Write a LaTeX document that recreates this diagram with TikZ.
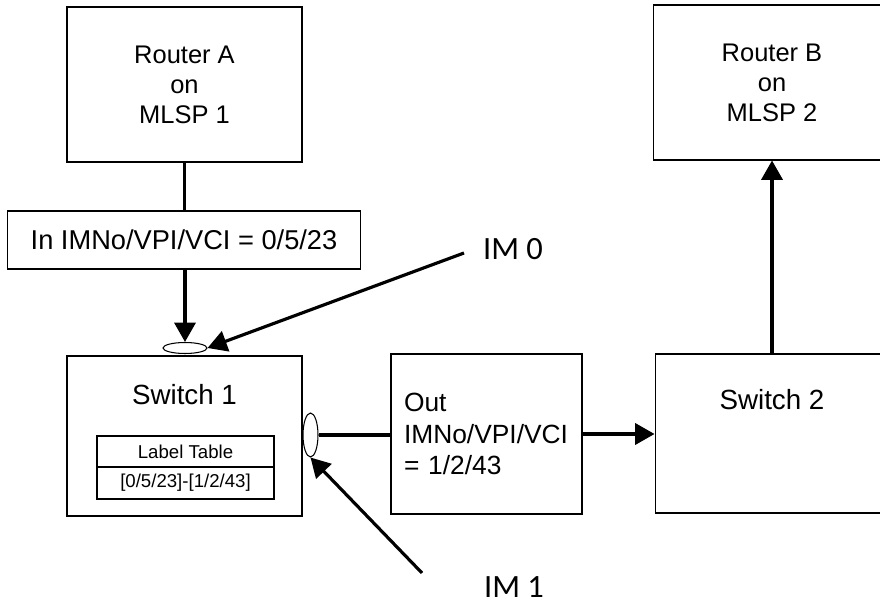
\documentclass[tikz,border=0pt]{standalone}
\usepackage{fontspec}
\setmainfont{Liberation Sans}
\newfontfamily\imfont{Carlito}
\usetikzlibrary{arrows.meta,shapes.geometric}

\tikzset{
  box/.style={draw, line width=0.6pt, align=center, font=\fontsize{14.5}{17}\selectfont},
  swtitle/.style={font=\fontsize{15.8}{18}\selectfont},
  tabcell/.style={draw, line width=0.6pt, minimum width=3.54cm, font=\fontsize{10.6}{12}\selectfont},
  port/.style={draw, ellipse, fill=white, line width=0.6pt, inner sep=0pt},
  conn/.style={line width=1.8pt},
  arr/.style={conn, -{Triangle[length=11pt,width=12pt]}},
  imlabel/.style={inner sep=1pt, font=\imfont\fontsize{18.5}{22}\selectfont}
}

\begin{document}
\begin{tikzpicture}[x=0.02cm, y=-0.02cm]
  \useasboundingbox (0,0) rectangle (880,604);
  \clip (0,0) rectangle (880,604);

  % Routers
  \node[box, minimum width=4.7cm, minimum height=3.1cm] (routerA) at (184.5,84.5) {Router A\\on\\MLSP 1};
  \node[box, minimum width=4.76cm, minimum height=3.1cm] (routerB) at (772,82.5) {Router B\\on\\MLSP 2};

  % Incoming label
  \node[box, minimum width=7.08cm, minimum height=1.16cm, font=\fontsize{15.5}{18}\selectfont] (inlabel) at (184,240) {In IMNo/VPI/VCI = 0/5/23};

  % Switch 1 with its label table
  \node[box, minimum width=4.7cm, minimum height=3.2cm] (switch1) at (184.5,436) {};
  \node[swtitle] (sw1title) at (184.5,395) {Switch 1};
  \node[tabcell, minimum height=0.62cm] (tabhead) at (185.5,451.5) {Label Table};
  \node[tabcell, minimum height=0.64cm] (tabrow) at (185.5,483) {[0/5/23]-[1/2/43]};

  % Outgoing label
  \node[box, minimum width=3.82cm, minimum height=3.2cm, text width=3.3cm, inner xsep=0.26cm, align=left, font=\fontsize{15}{18.1}\selectfont] (outlabel) at (486.5,434) {Out\\IMNo/VPI/VCI\\= 1/2/43};

  % Switch 2
  \node[box, minimum width=4.68cm, minimum height=3.18cm] (switch2) at (772,433.5) {};
  \node[swtitle] (sw2title) at (772,400) {Switch 2};

  % Interface modules
  \node[port, minimum width=0.88cm, minimum height=0.22cm] (port0) at (185,348) {};
  \node[port, minimum width=0.3cm, minimum height=0.88cm] (port1) at (310.5,435) {};
  \node[imlabel] (im0) at (513,249) {IM 0};
  \node[imlabel] (im1) at (514,587) {IM 1};
  \coordinate (im0tail) at ([shift={(-49,4)}]im0.center);
  \coordinate (im1tail) at ([shift={(-92,-14)}]im1.center);

  % Connectors
  \draw[conn] (routerA.south) -- (routerA.south |- inlabel.north);
  \draw[arr] (inlabel.south -| port0) -- (port0.north);
  \draw[arr] (im0tail) -- (port0.east);
  \draw[arr] (im1tail) -- (port1.south);
  \draw[conn] (port1.east) -- (port1.east -| outlabel.west);
  \draw[arr] (outlabel.east) -- (outlabel.east -| switch2.west);
  \draw[arr] (switch2.north) -- (routerB.south);
\end{tikzpicture}
\end{document}
